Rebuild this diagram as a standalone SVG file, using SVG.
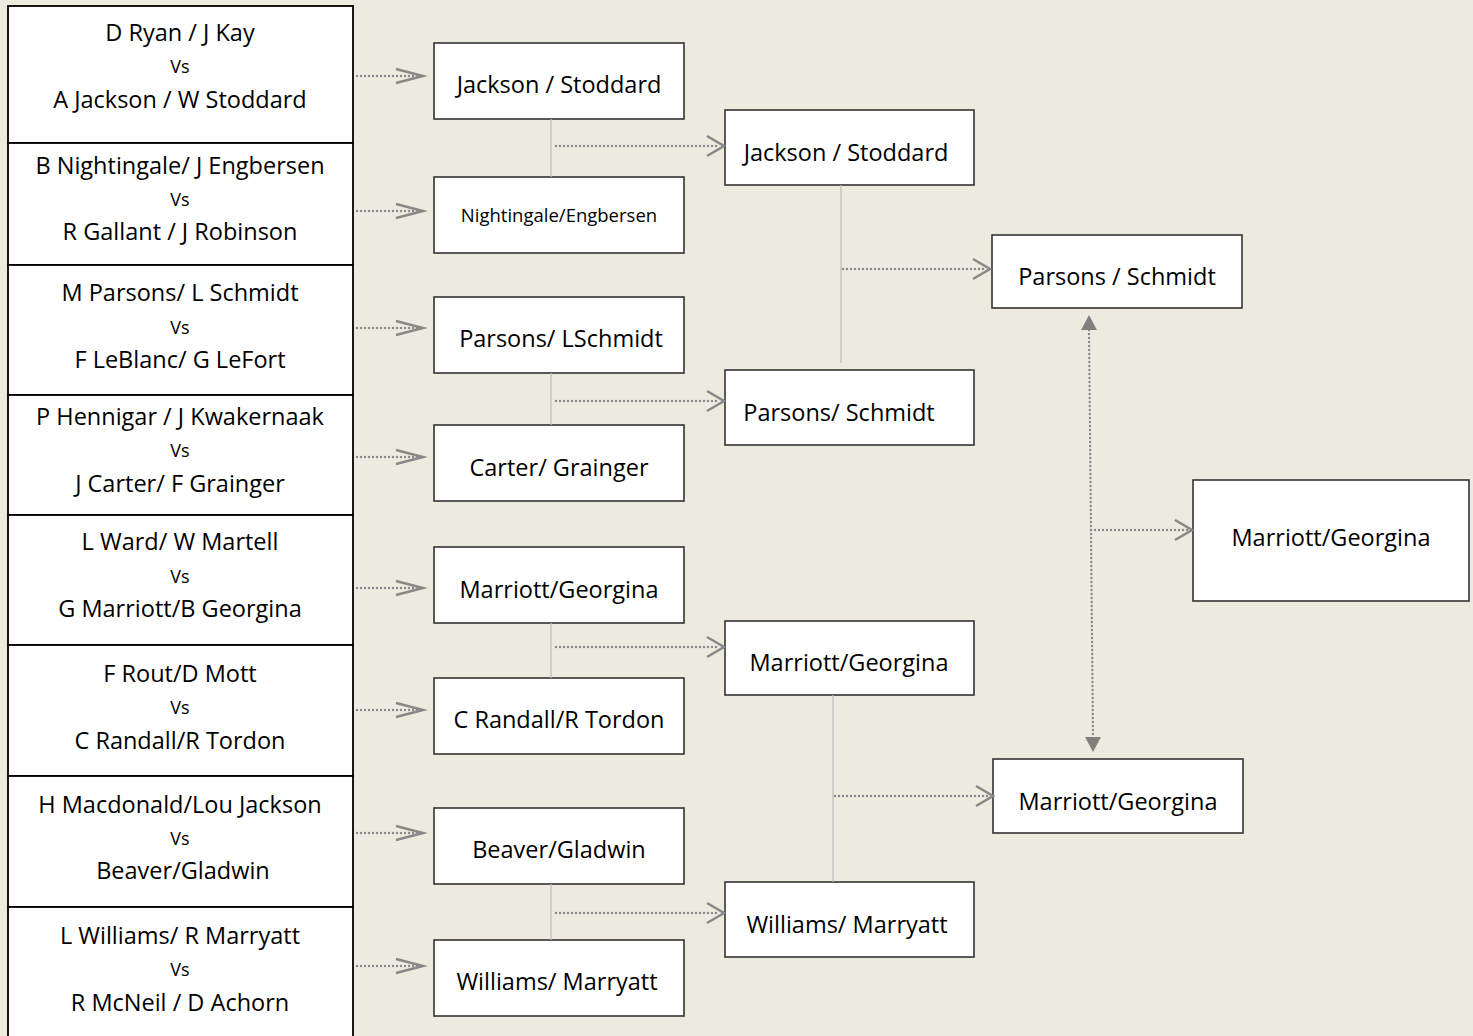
<svg xmlns="http://www.w3.org/2000/svg" width="1473" height="1036" viewBox="0 0 1473 1036">
<style>
.bg{fill:#EDEAE0}
.lb{fill:#fff;stroke:#000;stroke-width:1.8}
.nb{fill:#fff;stroke:#333;stroke-width:1.6}
text{font-family:"Open Sans","Liberation Sans",sans-serif;fill:#000;text-anchor:middle}
.t{font-size:23.5px}
.vs{font-size:18px}
.sm{font-size:18.5px}
.dot{stroke:#888;stroke-width:2.4;stroke-dasharray:0 4;stroke-linecap:round;fill:none}
.ah{stroke:#888;stroke-width:2.5;fill:none}
.cn{stroke:#bbb;stroke-width:1.2;fill:none}
.tri{fill:#808080}
</style>
<rect class="bg" x="0" y="0" width="1473" height="1036"/>
<g id="m1"><rect class="lb" x="8" y="6" width="345" height="137"/><text class="t" x="180" y="41">D Ryan / J Kay</text><text class="vs" x="180" y="73">Vs</text><text class="t" x="180" y="108">A Jackson / W Stoddard</text></g>
<g id="m2"><rect class="lb" x="8" y="143" width="345" height="122"/><text class="t" x="180" y="174">B Nightingale/ J Engbersen</text><text class="vs" x="180" y="206">Vs</text><text class="t" x="180" y="240">R Gallant / J Robinson</text></g>
<g id="m3"><rect class="lb" x="8" y="265" width="345" height="130"/><text class="t" x="180" y="301">M Parsons/ L Schmidt</text><text class="vs" x="180" y="334">Vs</text><text class="t" x="180" y="368">F LeBlanc/ G LeFort</text></g>
<g id="m4"><rect class="lb" x="8" y="395" width="345" height="120"/><text class="t" x="180" y="425">P Hennigar / J Kwakernaak</text><text class="vs" x="180" y="457">Vs</text><text class="t" x="180" y="492">J Carter/ F Grainger</text></g>
<g id="m5"><rect class="lb" x="8" y="515" width="345" height="130"/><text class="t" x="180" y="550">L Ward/ W Martell</text><text class="vs" x="180" y="583">Vs</text><text class="t" x="180" y="617">G Marriott/B Georgina</text></g>
<g id="m6"><rect class="lb" x="8" y="645" width="345" height="131"/><text class="t" x="180" y="682">F Rout/D Mott</text><text class="vs" x="180" y="714">Vs</text><text class="t" x="180" y="749">C Randall/R Tordon</text></g>
<g id="m7"><rect class="lb" x="8" y="776" width="345" height="131"/><text class="t" x="180" y="813">H Macdonald/Lou Jackson</text><text class="vs" x="180" y="845">Vs</text><text class="t" x="183" y="879">Beaver/Gladwin</text></g>
<g id="m8"><rect class="lb" x="8" y="907" width="345" height="140"/><text class="t" x="180" y="944">L Williams/ R Marryatt</text><text class="vs" x="180" y="976">Vs</text><text class="t" x="180" y="1011">R McNeil / D Achorn</text></g>

<g id="r1a"><rect class="nb" x="434" y="43" width="250" height="76"/><text class="t" x="559" y="93">Jackson / Stoddard</text></g>
<g id="r1b"><rect class="nb" x="434" y="177" width="250" height="76"/><text class="sm" x="559" y="222">Nightingale/Engbersen</text></g>
<g id="r1c"><rect class="nb" x="434" y="297" width="250" height="76"/><text class="t" x="561" y="347">Parsons/ LSchmidt</text></g>
<g id="r1d"><rect class="nb" x="434" y="425" width="250" height="76"/><text class="t" x="559" y="476">Carter/ Grainger</text></g>
<g id="r1e"><rect class="nb" x="434" y="547" width="250" height="76"/><text class="t" x="559" y="598">Marriott/Georgina</text></g>
<g id="r1f"><rect class="nb" x="434" y="678" width="250" height="76"/><text class="t" x="559" y="728">C Randall/R Tordon</text></g>
<g id="r1g"><rect class="nb" x="434" y="808" width="250" height="76"/><text class="t" x="559" y="858">Beaver/Gladwin</text></g>
<g id="r1h"><rect class="nb" x="434" y="940" width="250" height="76"/><text class="t" x="557" y="990">Williams/ Marryatt</text></g>

<g id="r2a"><rect class="nb" x="725" y="110" width="249" height="75"/><text class="t" x="846" y="161">Jackson / Stoddard</text></g>
<g id="r2b"><rect class="nb" x="725" y="370" width="249" height="75"/><text class="t" x="839" y="421">Parsons/ Schmidt</text></g>
<g id="r2c"><rect class="nb" x="725" y="621" width="249" height="74"/><text class="t" x="849" y="671">Marriott/Georgina</text></g>
<g id="r2d"><rect class="nb" x="725" y="882" width="249" height="75"/><text class="t" x="847" y="933">Williams/ Marryatt</text></g>

<g id="r3a"><rect class="nb" x="992" y="235" width="250" height="73"/><text class="t" x="1117" y="285">Parsons / Schmidt</text></g>
<g id="r3b"><rect class="nb" x="993" y="759" width="250" height="74"/><text class="t" x="1118" y="810">Marriott/Georgina</text></g>

<g id="final"><rect class="nb" x="1193" y="480" width="276" height="121"/><text class="t" x="1331" y="546">Marriott/Georgina</text></g>

<g id="connectors">
<path class="dot" d="M357 76H420M357 211H420M357 328H420M357 457H420M357 588H420M357 710H420M357 833H420M357 966H420"/>
<path class="ah" d="M396 69L423 76L396 83M396 204L423 211L396 218M396 321L423 328L396 335M396 450L423 457L396 464M396 581L423 588L396 595M396 703L423 710L396 717M396 826L423 833L396 840M396 959L423 966L396 973"/>
<path class="cn" d="M551 119V177M551 373V425M551 623V678M551 884V940M841 185V363M833 695V882"/>
<path class="dot" d="M556 146H720M556 401H720M556 647H720M556 913H720M843 269H986M835 796H989M1091 530H1188"/>
<path class="ah" d="M707 136L724 146L707 156M707 391L724 401L707 411M707 637L724 647L707 657M707 903L724 913L707 923M973 259L990 269L973 279M976 786L993 796L976 806M1175 520L1192 530L1175 540"/>
<path class="dot" d="M1089 330L1093 736"/>
<polygon class="tri" points="1089,315 1081,330 1097,330"/>
<polygon class="tri" points="1093,752 1085,737 1101,737"/>
</g>
</svg>
